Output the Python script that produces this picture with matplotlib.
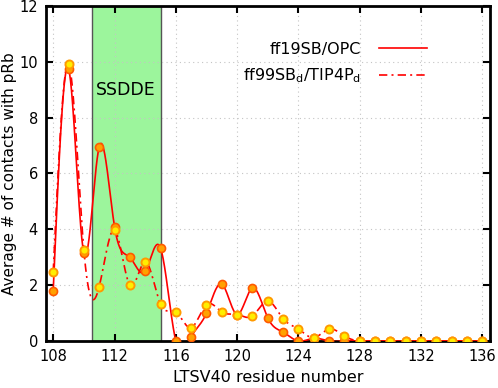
import numpy as np
import matplotlib
matplotlib.use("Agg")
import matplotlib.pyplot as plt
from matplotlib.lines import Line2D

residues = list(range(108, 137))
ff19sb_opc = [1.8, 9.75, 3.15, 6.95, 4.1, 3.0, 2.5, 3.33, 0.0, 0.15,
              1.0, 2.04, 0.95, 1.9, 0.83, 0.32, 0.0, 0.1, 0.0, 0.0,
              0.0, 0.0, 0.0, 0.0, 0.0, 0.0, 0.0, 0.0, 0.0]
ff99sbd_tip4pd = [2.48, 9.93, 3.26, 1.95, 3.98, 2.0, 2.84, 1.33, 1.04, 0.48,
                  1.3, 1.04, 0.95, 0.9, 1.43, 0.8, 0.43, 0.12, 0.43, 0.18,
                  0.0, 0.0, 0.0, 0.0, 0.0, 0.0, 0.0, 0.0, 0.0]
region_start, region_end, region_name = 110.5, 115.0, "SSDDE"


def natural_spline(x, y, n=30):
    # natural cubic spline, like gnuplot's "smooth csplines"
    x = np.asarray(x, float)
    y = np.asarray(y, float)
    k = len(x)
    h = np.diff(x)
    A = np.zeros((k, k))
    b = np.zeros(k)
    A[0, 0] = A[-1, -1] = 1
    for i in range(1, k - 1):
        A[i, i - 1] = h[i - 1]
        A[i, i] = 2 * (h[i - 1] + h[i])
        A[i, i + 1] = h[i]
        b[i] = 6 * ((y[i + 1] - y[i]) / h[i] - (y[i] - y[i - 1]) / h[i - 1])
    m = np.linalg.solve(A, b)
    xs, ys = [], []
    for i in range(k - 1):
        t = np.linspace(x[i], x[i + 1], n, endpoint=False)
        a = (x[i + 1] - t) / h[i]
        c = (t - x[i]) / h[i]
        s = (a * y[i] + c * y[i + 1]
             + ((a ** 3 - a) * m[i] + (c ** 3 - c) * m[i + 1]) * h[i] ** 2 / 6)
        xs.append(t)
        ys.append(s)
    xs.append([x[-1]])
    ys.append([y[-1]])
    return np.concatenate(xs), np.concatenate(ys)


fig = plt.figure(figsize=(4.98, 3.88), dpi=100)
ax = fig.add_axes([0.093, 0.121, 0.891, 0.864])

ax.axvspan(region_start, region_end, facecolor="#9cf59c", edgecolor="#555555",
           linewidth=1.0, zorder=0)
ax.text((region_start + region_end) / 2, 9.0, region_name, ha="center", va="center",
        fontsize=12.5)

sx, sy = natural_spline(residues, ff19sb_opc)
ax.plot(sx, sy, color="red", linewidth=1.2, zorder=3)
ax.plot(residues, ff19sb_opc, linestyle="none", marker="o", markersize=5.8,
        markerfacecolor="#ffa200", markeredgecolor="#ff5a00", markeredgewidth=1.2, zorder=4)

dx, dy = natural_spline(residues, ff99sbd_tip4pd)
ax.plot(dx, dy, color="red", linewidth=1.2, dashes=(5, 2.5, 1.2, 2.5), zorder=3)
ax.plot(residues, ff99sbd_tip4pd, linestyle="none", marker="o", markersize=5.8,
        markerfacecolor="#ffee00", markeredgecolor="#ff9a00", markeredgewidth=1.4, zorder=5)

ax.set_xlim(107.55, 136.5)
ax.set_ylim(0, 12)
ax.set_xticks(range(108, 137, 4))
ax.set_yticks(range(0, 13, 2))
ax.tick_params(direction="in", length=5, width=1.5, top=True, right=True,
               labelsize=10.5, pad=6)
for s in ax.spines.values():
    s.set_linewidth(2)
ax.grid(True, linestyle=(0, (1, 3)), color="#c4c4c4", linewidth=0.8)
ax.set_axisbelow(True)

ax.set_xlabel("LTSV40 residue number", fontsize=11.5)
ax.set_ylabel("Average # of contacts with pRb", fontsize=11)
ax.yaxis.set_label_coords(-0.066, 0.5)

handles = [Line2D([], [], color="red", linewidth=1.2),
           Line2D([], [], color="red", linewidth=1.2, dashes=(5, 2.5, 1.2, 2.5))]
labels = ["ff19SB/OPC", r"ff99SB$_\mathrm{d}$/TIP4P$_\mathrm{d}$"]
ax.legend(handles, labels, loc="upper right", bbox_to_anchor=(0.89, 0.935),
          markerfirst=False, frameon=False, fontsize=11.5, handlelength=3.0,
          labelspacing=0.6, handletextpad=1.1)

fig.savefig("out.png", dpi=100)
